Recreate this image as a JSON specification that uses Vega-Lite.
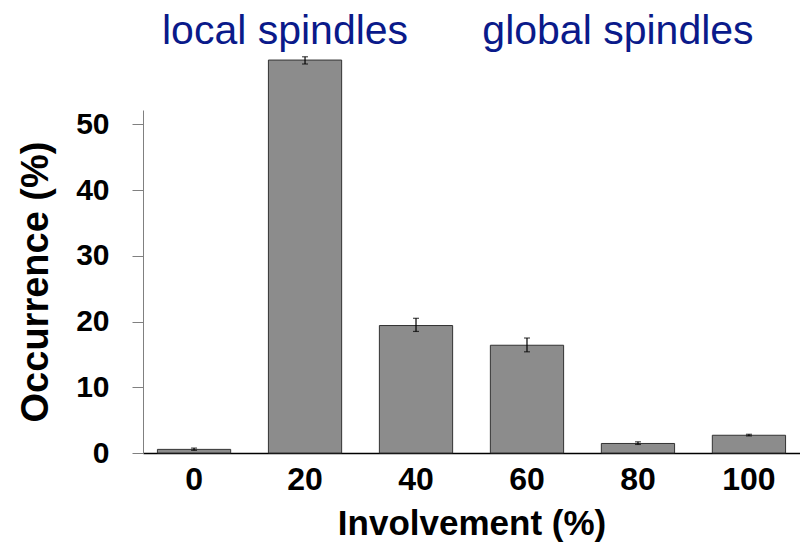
{
  "$schema": "https://vega.github.io/schema/vega-lite/v6.json",
  "autosize": {"type": "none"},
  "padding": {"left": 143, "top": 110, "right": 0, "bottom": 96},
  "width": 657,
  "height": 343,
  "background": "white",
  "config": {
    "view": {"stroke": null},
    "font": "Liberation Sans"
  },
  "datasets": {
    "bars": [
      {"Involvement": "0", "occurrence": 0.55, "lo": 0.4, "hi": 0.75},
      {"Involvement": "20", "occurrence": 59.8, "lo": 59.2, "hi": 60.3},
      {"Involvement": "40", "occurrence": 19.4, "lo": 18.5, "hi": 20.5},
      {"Involvement": "60", "occurrence": 16.4, "lo": 15.4, "hi": 17.5},
      {"Involvement": "80", "occurrence": 1.45, "lo": 1.3, "hi": 1.7},
      {"Involvement": "100", "occurrence": 2.7, "lo": 2.6, "hi": 2.85}
    ],
    "notes": [
      {"Involvement": "20", "label": "local spindles"},
      {"Involvement": "80", "label": "global spindles"}
    ]
  },
  "encoding": {
    "x": {
      "field": "Involvement",
      "type": "ordinal",
      "sort": ["0", "20", "40", "60", "80", "100"],
      "scale": {"paddingInner": 0.34, "paddingOuter": 0.13},
      "axis": {
        "title": "Involvement (%)",
        "titleFont": "Liberation Sans",
        "titleFontSize": 35,
        "titleFontWeight": "bold",
        "titleColor": "black",
        "titlePadding": 11,
        "labelFontSize": 32,
        "labelFontWeight": "bold",
        "labelColor": "black",
        "labelAngle": 0,
        "labelPadding": 11,
        "ticks": false,
        "domainColor": "black",
        "domainWidth": 1.5
      }
    }
  },
  "layer": [
    {
      "data": {"name": "bars"},
      "mark": {"type": "bar", "color": "#8c8c8c", "stroke": "#333333", "strokeWidth": 1},
      "encoding": {
        "y": {
          "field": "occurrence",
          "type": "quantitative",
          "scale": {"domain": [0, 52.2], "nice": false},
          "axis": {
            "title": "Occurrence (%)",
            "titleFontSize": 38,
            "titleFontWeight": "bold",
            "titleColor": "black",
            "titlePadding": 20,
            "values": [0, 10, 20, 30, 40, 50],
            "labelFontSize": 30,
            "labelFontWeight": "bold",
            "labelColor": "black",
            "labelPadding": 23,
            "tickSize": 11,
            "tickColor": "#808080",
            "domainColor": "#808080",
            "grid": false
          }
        }
      }
    },
    {
      "data": {"name": "bars"},
      "mark": {"type": "rule", "color": "black", "strokeWidth": 1.2},
      "encoding": {
        "y": {"field": "lo", "type": "quantitative"},
        "y2": {"field": "hi"}
      }
    },
    {
      "data": {"name": "bars"},
      "mark": {"type": "tick", "color": "black", "size": 6, "thickness": 1.2, "orient": "horizontal"},
      "encoding": {"y": {"field": "lo", "type": "quantitative"}}
    },
    {
      "data": {"name": "bars"},
      "mark": {"type": "tick", "color": "black", "size": 6, "thickness": 1.2, "orient": "horizontal"},
      "encoding": {"y": {"field": "hi", "type": "quantitative"}}
    },
    {
      "data": {"name": "notes"},
      "mark": {"type": "text", "fontSize": 41, "color": "#0a1a8a", "dx": -20, "baseline": "middle", "align": "center"},
      "encoding": {
        "y": {"datum": 64.0, "type": "quantitative"},
        "text": {"field": "label"}
      }
    }
  ]
}
